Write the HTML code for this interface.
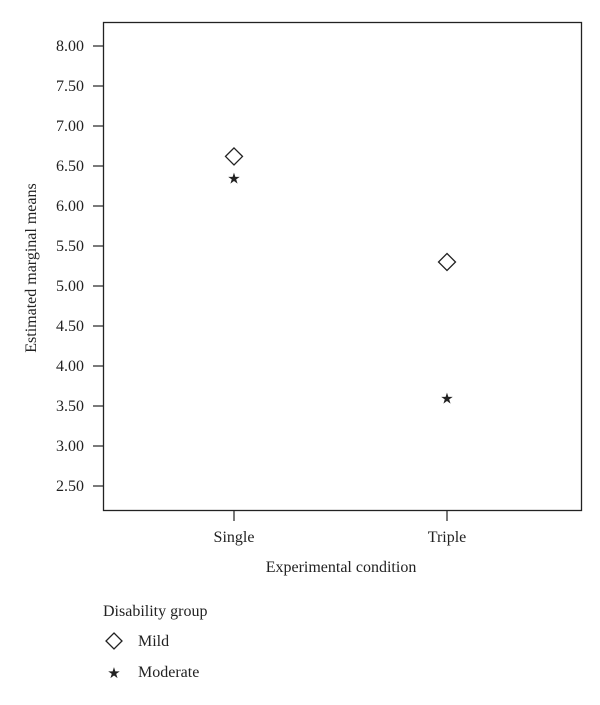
<!DOCTYPE html>
<html><head><meta charset="utf-8"><style>
body{margin:0;background:#fff;}
svg text{font-family:"Liberation Serif",serif;fill:#222;}
</style></head><body>
<svg width="600" height="700" xmlns="http://www.w3.org/2000/svg" id="c">
<rect x="103.5" y="22.5" width="478" height="488" fill="none" stroke="#222" stroke-width="1.3"/>
<g id="yaxis"></g>
<g id="xaxis"></g>
<g id="marks"></g>
<text transform="translate(36,268) rotate(-90)" text-anchor="middle" font-size="16">Estimated marginal means</text>
<text x="341" y="572" text-anchor="middle" font-size="16">Experimental condition</text>
<text x="103" y="616" font-size="16">Disability group</text>
<g>
<path d="M114 633 L122 641 L114 649 L106 641 Z" fill="none" stroke="#222" stroke-width="1.3"/>
<text x="138" y="646" font-size="16">Mild</text></g>
<g>
<text x="114" y="678" text-anchor="middle" font-size="15">★</text>
<text x="138" y="677" font-size="16">Moderate</text></g>
</svg>
<script>
const categories=["Single","Triple"];
const mild=[6.62,5.30];
const moderate=[6.35,3.60];
const yTicks=[2.5,3,3.5,4,4.5,5,5.5,6,6.5,7,7.5,8];
const ns="http://www.w3.org/2000/svg";
const y=v=>46+(8-v)*80;
const x=i=>234+i*213;
function mk(t,a,p){const e=document.createElementNS(ns,t);for(const k in a)e.setAttribute(k,a[k]);p.appendChild(e);return e;}
const ya=document.getElementById('yaxis'),xa=document.getElementById('xaxis'),m=document.getElementById('marks');
yTicks.forEach(v=>{
const l=mk('line',{x1:93,x2:103,y1:y(v),y2:y(v),stroke:'#222','stroke-width':1.2},ya);


const t=mk('text',{x:84,y:y(v)+5,'text-anchor':'end','font-size':16},ya);


t.textContent=v.toFixed(2);
});
categories.forEach((c,i)=>{
const l=mk('line',{x1:x(i),x2:x(i),y1:511,y2:521,stroke:'#222','stroke-width':1.2},xa);


const t=mk('text',{x:x(i),y:542,'text-anchor':'middle','font-size':16},xa);


t.textContent=c;
const d=mk('path',{d:`M${x(i)} ${y(mild[i])-8.5} L${x(i)+8.5} ${y(mild[i])} L${x(i)} ${y(mild[i])+8.5} L${x(i)-8.5} ${y(mild[i])} Z`,fill:'none',stroke:'#222','stroke-width':1.3},m);


const s=mk('text',{x:x(i),y:y(moderate[i])+5.5,'text-anchor':'middle','font-size':15},m);


s.textContent='★';
});
</script>
</body></html>
